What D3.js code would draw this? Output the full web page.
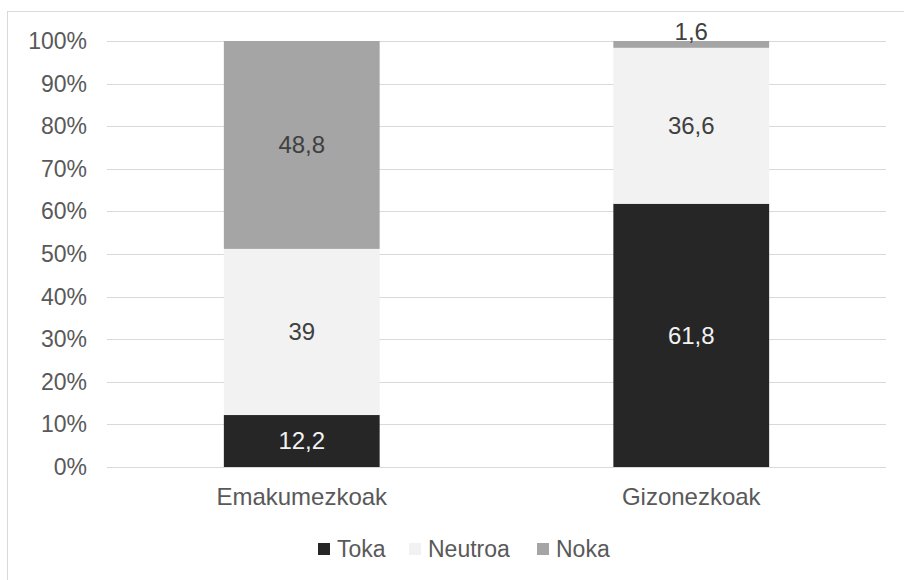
<!DOCTYPE html>
<html>
<head>
<meta charset="utf-8">
<script src="https://cdn.jsdelivr.net/npm/d3@7"></script>
<style>
  body { margin: 0; background: #fff; }
  svg text { font-family: "Liberation Sans", Arial, sans-serif; }
</style>
</head>
<body>
<div id="chart"></div>
<script>
const categories = ["Emakumezkoak", "Gizonezkoak"]
const seriesNames = ["Toka", "Neutroa", "Noka"]
const toka = [12.2, 61.8]
const neutroa = [39, 36.6]
const noka = [48.8, 1.6]
const yTicks = [0, 10, 20, 30, 40, 50, 60, 70, 80, 90, 100]

const colors = { Toka: "#262626", Neutroa: "#f2f2f2", Noka: "#a5a5a5" }
const labelColors = { Toka: "#f2f2f2", Neutroa: "#404040", Noka: "#404040" }

const width = 904
const height = 580
const margin = { top: 41, right: 18, bottom: 113, left: 107 }

const rows = categories.map((c, i) => ({ cat: c, Toka: toka[i], Neutroa: neutroa[i], Noka: noka[i] }))
const stacked = d3.stack().keys(seriesNames)(rows)

const svg = d3.select("#chart").append("svg")
    .attr("width", width)
    .attr("height", height)

// chart area border
svg.append("rect")
    .attr("x", 7.5)
    .attr("y", 11.5)
    .attr("width", 950)
    .attr("height", 650)
    .attr("fill", "none")
    .attr("stroke", "#d9d9d9")

const x = d3.scaleBand()
    .domain(categories)
    .range([margin.left, width - margin.right])
    .paddingInner(0.6)
    .paddingOuter(0.3)

const y = d3.scaleLinear()
    .domain([0, 100])
    .range([height - margin.bottom - 0, margin.top])

// gridlines
svg.append("g")
    .selectAll("line")
    .data(yTicks)
    .join("line")
    .attr("x1", margin.left)
    .attr("x2", width - margin.right)
    .attr("y1", d => Math.round(y(d)) + 0.5)
    .attr("y2", d => Math.round(y(d)) + 0.5)
    .attr("stroke", "#d9d9d9")
    .attr("stroke-width", 1.2)

// y tick labels
svg.append("g")
    .selectAll("text")
    .data(yTicks)
    .join("text")
    .attr("x", 87)
    .attr("y", d => y(d))
    .attr("dy", "0.35em")
    .attr("text-anchor", "end")
    .attr("font-size", 23)
    .attr("fill", "#595959")
    .text(d => d + "%")

// bars
const layers = svg.append("g")
    .selectAll("g")
    .data(stacked)
    .join("g")
    .attr("fill", d => colors[d.key])

layers.selectAll("rect")
    .data(d => d)
    .join("rect")
    .attr("x", d => x(d.data.cat))
    .attr("y", d => y(d[1]))
    .attr("width", x.bandwidth())
    .attr("height", d => y(d[0]) - y(d[1]))

// value labels
const fmt = v => String(v).replace(".", ",")
stacked.forEach(layer => {
    svg.append("g")
        .selectAll("text")
        .data(layer)
        .join("text")
        .attr("x", d => x(d.data.cat) + x.bandwidth() / 2)
        .attr("y", d => {
            const h = y(d[0]) - y(d[1])
            return h < 20 ? y(d[1]) - 9 : (y(d[0]) + y(d[1])) / 2
        })
        .attr("dy", "0.35em")
        .attr("text-anchor", "middle")
        .attr("font-size", 24)
        .attr("fill", d => (y(d[0]) - y(d[1]) < 20) ? "#404040" : labelColors[layer.key])
        .text(d => fmt(d.data[layer.key]))
})

// category labels
svg.append("g")
    .selectAll("text")
    .data(categories)
    .join("text")
    .attr("x", d => x(d) + x.bandwidth() / 2)
    .attr("y", 497)
    .attr("dy", "0.35em")
    .attr("text-anchor", "middle")
    .attr("font-size", 24)
    .attr("fill", "#595959")
    .text(d => d)

// legend
const legendX = [318, 409, 537]
const legend = svg.append("g")
    .selectAll("g")
    .data(seriesNames)
    .join("g")
    .attr("transform", (d, i) => "translate(" + legendX[i] + ",549)")

legend.append("rect")
    .attr("x", 0)
    .attr("y", -6)
    .attr("width", 12)
    .attr("height", 12)
    .attr("fill", d => colors[d])

legend.append("text")
    .attr("x", 19)
    .attr("y", 0)
    .attr("dy", "0.35em")
    .attr("font-size", 23)
    .attr("fill", "#595959")
    .text(d => d)
</script>
</body>
</html>
